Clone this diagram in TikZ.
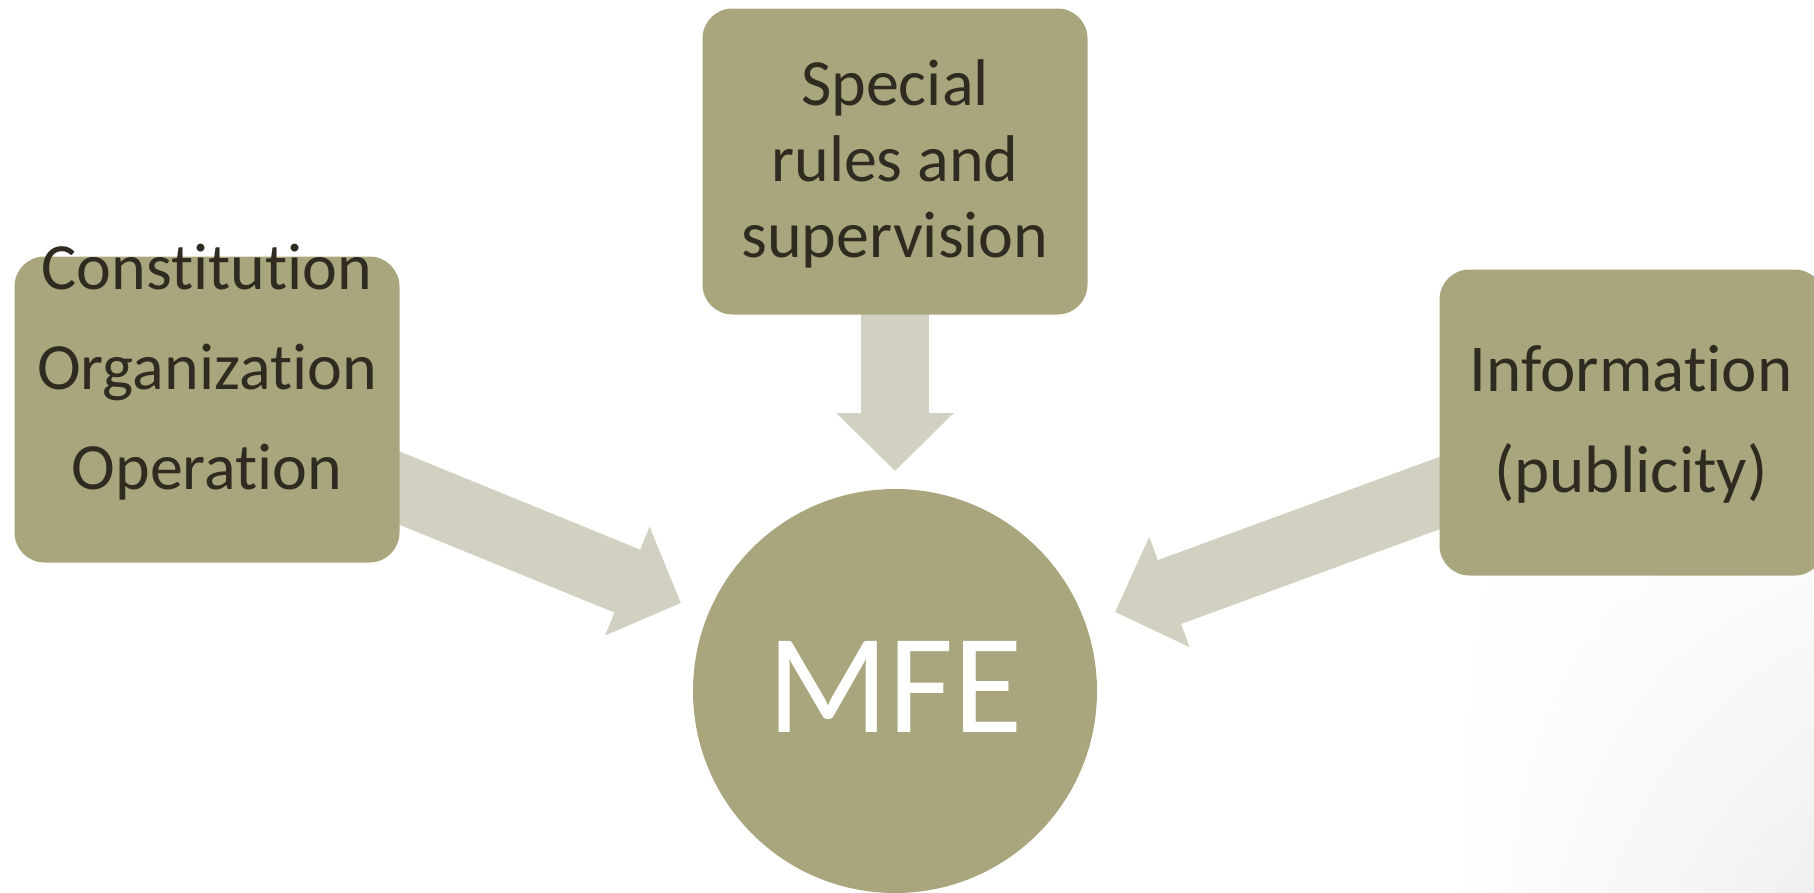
\documentclass[tikz,border=0pt]{standalone}
\usepackage{fontspec}
\setmainfont[Ligatures=NoCommon]{Carlito}
\usetikzlibrary{arrows.meta,backgrounds,shadings}
\definecolor{boxfill}{RGB}{169,166,126}
\definecolor{arrowfill}{RGB}{210,209,193}
\definecolor{txtcol}{RGB}{47,43,32}
\begin{document}
\begin{tikzpicture}[x=1pt,y=-1pt,
  box/.style={fill=boxfill, rounded corners=30pt, minimum width=385pt, minimum height=306pt, inner sep=0pt},
  txt/.style={text=txtcol, align=center, inner sep=0pt},
  conn/.style={draw=arrowfill, line width=68pt, -{Triangle[width=114pt,length=58pt]}}]
\useasboundingbox (0,0) rectangle (1814,892);
\node[box] (L) at (207,409.5) {};
\node[box] (T) at (895,161.5) {};
\node[box] (R) at (1632,422.5) {};
\node[circle, fill=boxfill, minimum size=404pt, inner sep=0pt] (C) at (895,691) {};
\coordinate (Ltip) at (681,603);
\coordinate (Ttip) at (895,471);
\coordinate (Rtip) at (1115,612);
\begin{pgfonlayer}{background}
  \shade[upper left=white, upper right=white, lower left=white, lower right=black!6] (1450,450) rectangle (1814,892);
  \draw[conn] (L.center) -- (Ltip);
  \draw[conn] (T.center) -- (Ttip);
  \draw[conn] (R.center) -- (Rtip);
\end{pgfonlayer}
\node[txt, font=\fontsize{66}{100}\selectfont, anchor=base] (Ltext) at (207,489) {Constitution\\Organization\\Operation};
\node[txt, font=\fontsize{66}{76}\selectfont, anchor=base] (Ttext) at (895,257) {Special\\rules and\\supervision};
\node[txt, font=\fontsize{67}{101}\selectfont, anchor=base] (Rtext) at (1631,492) {Information\\(publicity)};
\node[font=\fontsize{142}{142}\selectfont, text=white, inner sep=0pt, anchor=base] (Ctext) at (895,732) {MFE};
\end{tikzpicture}
\end{document}
